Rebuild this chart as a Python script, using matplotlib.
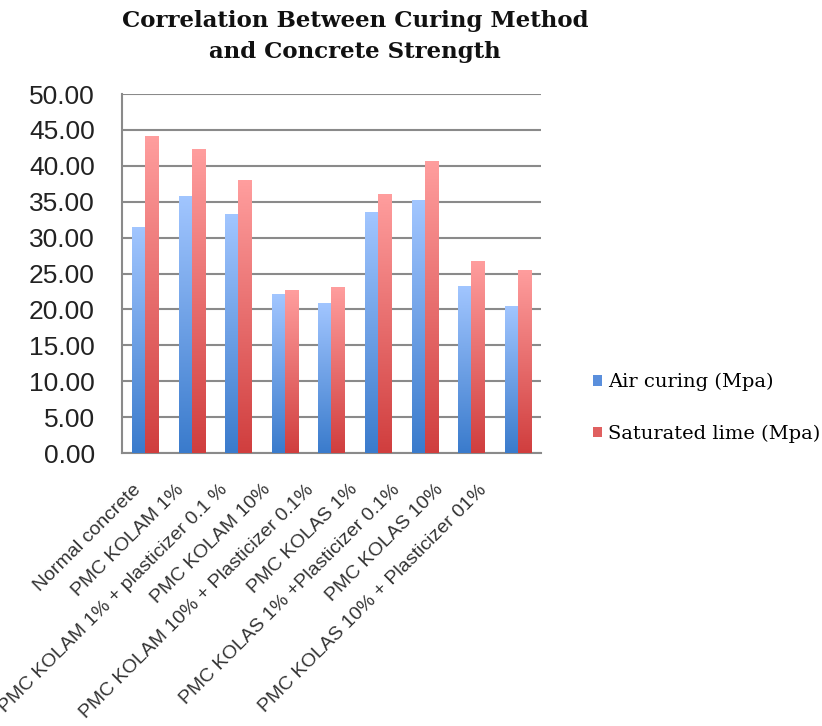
import numpy as np
import matplotlib.pyplot as plt
import matplotlib.transforms as mtransforms
from matplotlib.colors import LinearSegmentedColormap

categories = ['Normal concrete', 'PMC KOLAM 1%', 'PMC KOLAM 1% + plasticizer 0.1 %',
              'PMC KOLAM 10%', 'PMC KOLAM 10% + Plasticizer 0.1%', 'PMC KOLAS 1%',
              'PMC KOLAS 1% +Plasticizer 0.1%', 'PMC KOLAS 10%',
              'PMC KOLAS 10% + Plasticizer 01%']
air_curing = [31.5, 35.8, 33.3, 22.1, 20.9, 33.6, 35.2, 23.3, 20.5]
saturated_lime = [44.2, 42.3, 38.0, 22.7, 23.1, 36.1, 40.7, 26.8, 25.5]
yticks = np.arange(0, 50.01, 5)

fig = plt.figure(figsize=(8.22, 7.26), dpi=100)
ax = fig.add_axes([0.1484, 0.376, 0.5097, 0.4945])

x = np.arange(len(categories))
w = 0.28
bars_air = ax.bar(x - w / 2, air_curing, w, color='#4F86D6', label='Air curing (Mpa)', zorder=3)
bars_lime = ax.bar(x + w / 2, saturated_lime, w, color='#E05656', label='Saturated lime (Mpa)', zorder=3)

# vertical gradient fill like the original spreadsheet chart
cm_blue = LinearSegmentedColormap.from_list('b', ['#3A7BCC', '#A2C6FF'])
cm_red = LinearSegmentedColormap.from_list('r', ['#D03E3E', '#FF9E9E'])
grad = np.linspace(0, 1, 256).reshape(-1, 1)
for bars, cmap in [(bars_air, cm_blue), (bars_lime, cm_red)]:
    for b in bars:
        x0, h, bw = b.get_x(), b.get_height(), b.get_width()
        b.set_facecolor('none')
        b.set_edgecolor('none')
        im = ax.imshow(grad, cmap=cmap, origin='lower', aspect='auto',
                       extent=(x0, x0 + bw, 0, h), zorder=3)
        im.set_clip_path(b)

ax.set_xlim(-0.5, len(categories) - 0.5)
ax.set_ylim(0, 50)
ax.set_yticks(yticks)
ax.set_yticklabels([f'{v:.2f}' for v in yticks], fontsize=19, family='Liberation Sans',
                   color='#222222')
ax.set_xticks(x)
ax.set_xticklabels(categories, rotation=45, ha='right', rotation_mode='anchor',
                   fontsize=14, family='Liberation Sans', color='#333333')
ax.tick_params(axis='x', length=0, pad=8)
ax.tick_params(axis='y', length=0, pad=19.5)
# labels in the original drift a little to the left of their bars
for i, lbl in enumerate(ax.get_xticklabels()):
    offset = mtransforms.ScaledTranslation(-(13 + 3.3 * i) / 100, -17 / 100, fig.dpi_scale_trans)
    lbl.set_transform(lbl.get_transform() + offset)
ax.grid(axis='y', color='#8a8a8a', linewidth=1.5, zorder=0)
for s in ['top', 'right']:
    ax.spines[s].set_visible(False)
for s in ['left', 'bottom']:
    ax.spines[s].set_color('#8a8a8a')
    ax.spines[s].set_linewidth(1.5)

fig.text(0.432, 0.950, 'Correlation Between Curing Method\nand Concrete Strength',
         ha='center', va='center', fontsize=16.5, fontweight='bold',
         family='DejaVu Serif', linespacing=1.55, color='#111111')

leg = fig.legend(handles=[bars_air, bars_lime], loc='center left', bbox_to_anchor=(0.70, 0.438),
                 frameon=False, handlelength=0.45, handleheight=0.45, handletextpad=0.35,
                 labelspacing=1.7, prop={'family': 'DejaVu Serif', 'size': 14})
for h, c in zip(leg.legend_handles, ['#5A8FDC', '#E06060']):
    h.set_facecolor(c)

fig.savefig('out.png', dpi=100)
